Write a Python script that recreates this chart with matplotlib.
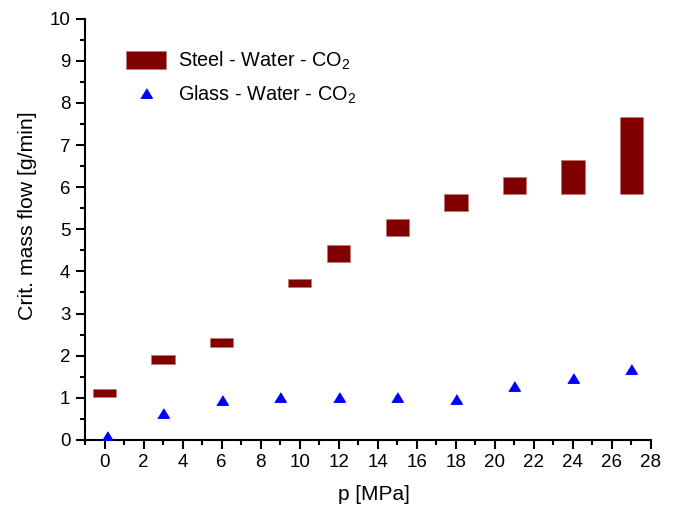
import matplotlib
matplotlib.use("Agg")
import matplotlib.pyplot as plt
from matplotlib.ticker import MultipleLocator
from matplotlib.lines import Line2D
from matplotlib.patches import Patch

plt.rcParams['font.family'] = ['Liberation Sans', 'DejaVu Sans']
plt.rcParams['mathtext.fontset'] = 'custom'
plt.rcParams['mathtext.rm'] = 'Liberation Sans'
plt.rcParams['mathtext.it'] = 'Liberation Sans:italic'

# Steel - Water - CO2: ranges (low, high) of critical mass flow
steel_p = [0, 3, 6, 10, 12, 15, 18, 21, 24, 27]
steel_low = [1.01, 1.81, 2.21, 3.62, 4.22, 4.84, 5.44, 5.84, 5.84, 5.84]
steel_high = [1.20, 2.01, 2.41, 3.82, 4.63, 5.24, 5.84, 6.24, 6.65, 7.66]

# Glass - Water - CO2
glass_p = [0.1, 3, 6, 9, 12, 15, 18, 21, 24, 27]
glass_flow = [0.09, 0.64, 0.95, 1.03, 1.03, 1.03, 0.96, 1.27, 1.48, 1.69]

xlabel = "p [MPa]"
ylabel = "Crit. mass flow [g/min]"
steel_label = "Steel - Water - CO$_2$"
glass_label = "Glass - Water - CO$_2$"

tri = [(-1, -0.82), (1, -0.82), (0, 0.82)]

fig = plt.figure(figsize=(6.75, 5.08), dpi=100)
ax = fig.add_axes([0.126, 0.134, 0.8384, 0.8293])

heights = [h - l for h, l in zip(steel_high, steel_low)]
ax.bar(steel_p, heights, bottom=steel_low, width=1.2, color='#800000',
       edgecolor='#c07070', linewidth=0.4, zorder=2)
ax.plot(glass_p, glass_flow, linestyle='none', marker=tri, ms=8.3,
        color='#0000ff', zorder=3)

ax.set_xlim(-1, 28)
ax.set_ylim(0, 10)
ax.xaxis.set_major_locator(MultipleLocator(2))
ax.xaxis.set_minor_locator(MultipleLocator(1))
ax.yaxis.set_major_locator(MultipleLocator(1))
ax.yaxis.set_minor_locator(MultipleLocator(0.5))

for s in ['top', 'right']:
    ax.spines[s].set_visible(False)
for s in ['left', 'bottom']:
    ax.spines[s].set_linewidth(1.5)
ax.tick_params(which='major', direction='out', length=6.5, width=1.5,
               labelsize=13.5)
ax.tick_params(axis='x', which='major', pad=3.5)
ax.tick_params(axis='y', which='major', pad=4)
ax.tick_params(which='minor', direction='out', length=3.5, width=1.5)

ax.set_xlabel(xlabel, fontsize=15)
ax.set_ylabel(ylabel, fontsize=15.3)
ax.xaxis.set_label_coords(0.511, -0.108)
ax.yaxis.set_label_coords(-0.085, 0.532)

handles = [Patch(facecolor='#800000', edgecolor='#c07070', linewidth=0.4),
           Line2D([], [], linestyle='none', marker=tri, ms=8.3, color='#0000ff')]
ax.legend(handles, [steel_label, glass_label], frameon=False,
          loc='upper left', bbox_to_anchor=(0.072, 0.926),
          fontsize=14.3, handlelength=2.04, handleheight=1.0,
          labelspacing=0.58, handletextpad=0.59, borderaxespad=0,
          borderpad=0)

fig.savefig("out.png", dpi=100)
